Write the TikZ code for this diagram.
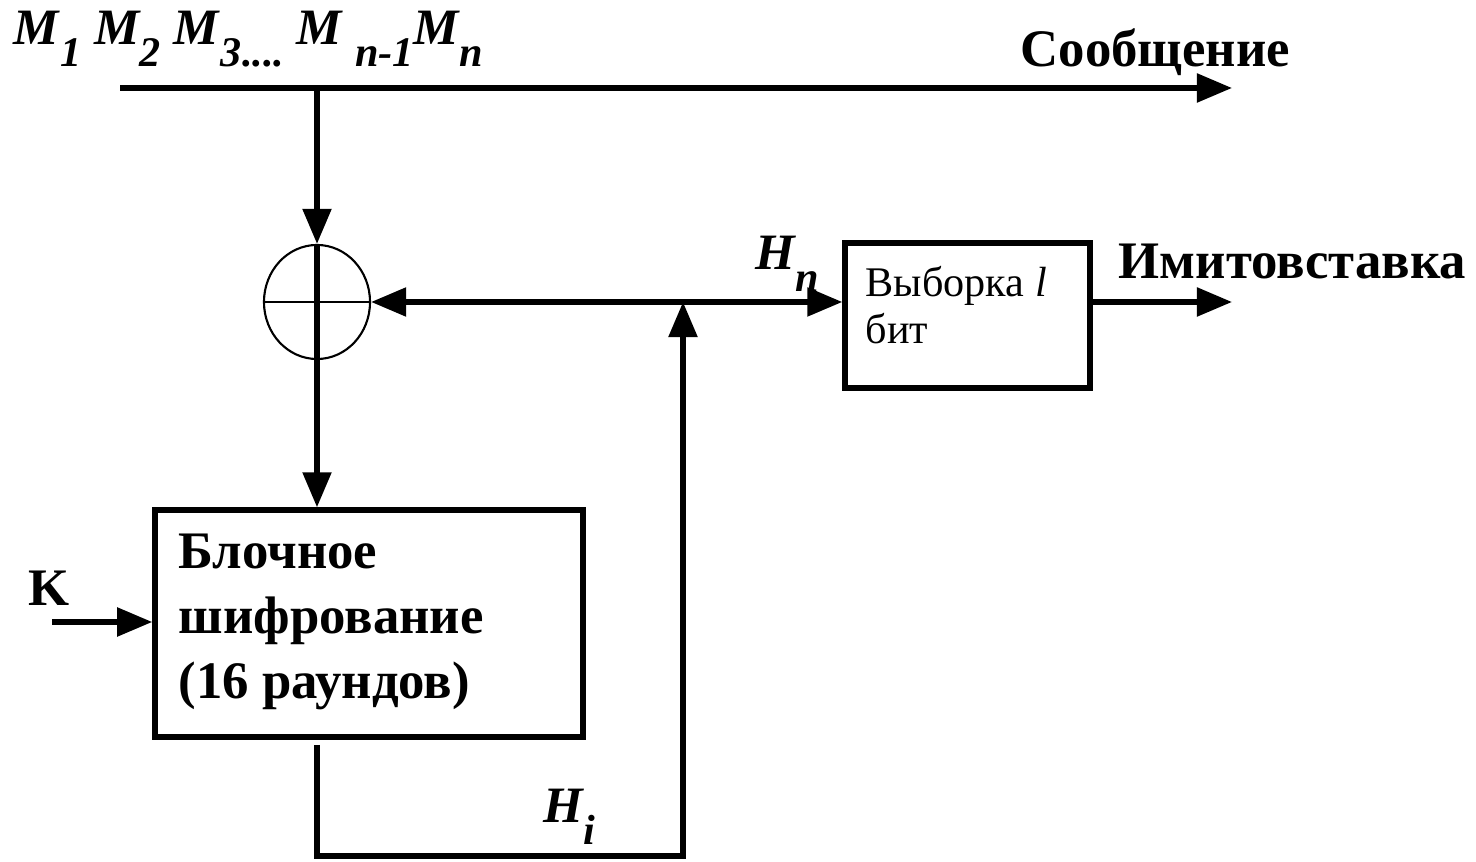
\documentclass[tikz,border=0pt]{standalone}
\usepackage{fontspec}
\setmainfont{Liberation Serif}
\usetikzlibrary{arrows.meta,positioning,shapes.geometric}

\newcommand{\lowsub}[1]{\raisebox{-6pt}{\fontsize{12}{13}\selectfont #1}}

\begin{document}
\begin{tikzpicture}[x=0.01cm,y=-0.01cm,
  flow/.style={-{Triangle[length=3.5mm,width=2.8mm]},line width=1.5pt},
  blockbox/.style={draw,line width=1.5pt,inner sep=0pt},
  boldlbl/.style={font=\fontsize{15}{18.5}\selectfont\bfseries,inner sep=0pt},
  varlbl/.style={font=\fontsize{14.5}{17}\selectfont\bfseries\itshape,inner sep=0pt},
  plainlbl/.style={font=\fontsize{12}{15}\selectfont,inner sep=0pt}]

\useasboundingbox (0,0) rectangle (1476,862);

%% ── message line ─────────────────────────────────────────────
\node[varlbl,anchor=base west] (msgtext) at (13,45)
  {M\lowsub{\kern0.5pt 1} M\lowsub{2} M\lowsub{\kern0.5pt 3....} M \lowsub{n-1}M\lowsub{n}};
\node[boldlbl,anchor=base west] (msglbl) at (1020,67) {Сообщение};
\coordinate (msgin) at (120,88);
\coordinate (msgout) at (1232,88);
\coordinate (tap) at (317,88);
\draw[flow] (msgin) -- (msgout);

%% ── adder ────────────────────────────────────────────────────
\node[draw,ellipse,line width=0.6pt,minimum width=1.06cm,minimum height=1.14cm,
  inner sep=0pt] (xor) at (317,302) {};
\draw[line width=0.6pt] (xor.west) -- (xor.east);
\draw[flow] (tap) -- (xor.north);

%% ── block cipher ─────────────────────────────────────────────
\node[blockbox,minimum width=4.28cm,minimum height=2.27cm] (cipher) at (369,623.5) {};
\node[boldlbl,anchor=west,align=left] (ciphertext) at (178,622)
  {Блочное\\шифрование\\(16 раундов)};
\draw[flow] (xor.north) -- (xor.north |- cipher.north);

%% key input
\node[boldlbl,anchor=base west] (key) at (28,606) {K};
\coordinate (keyin) at (52,622);
\draw[flow] (keyin) -- (keyin -| cipher.west);

%% ── feedback H_i ─────────────────────────────────────────────
\coordinate (hout) at (317,745);
\coordinate (hbot) at (317,856);
\coordinate (fbk) at (683,302);
\draw[flow] (hout) -- (hbot) -- (fbk |- hbot) -- (fbk);
\node[varlbl,anchor=base west] (hilbl) at (543,823) {H\lowsub{i}};
\draw[flow] (fbk) -- (xor.east);

%% ── tag selection ────────────────────────────────────────────
\node[blockbox,minimum width=2.45cm,minimum height=1.45cm] (select) at (967.5,315.5) {};
\node[plainlbl,anchor=base west] (selecttext) at (865,297) {Выборка \textit{l}};
\node[plainlbl,anchor=base west] (selecttext2) at (865,344) {бит};
\node[varlbl,anchor=base west] (hnlbl) at (755,270) {H\lowsub{n}};
\draw[flow] (fbk) -- (fbk -| select.west);

\coordinate (macout) at (1232,302);
\draw[flow] (fbk -| select.east) -- (macout);
\node[boldlbl,anchor=base west] (maclbl) at (1118,279) {Имитовставка};

\end{tikzpicture}
\end{document}
